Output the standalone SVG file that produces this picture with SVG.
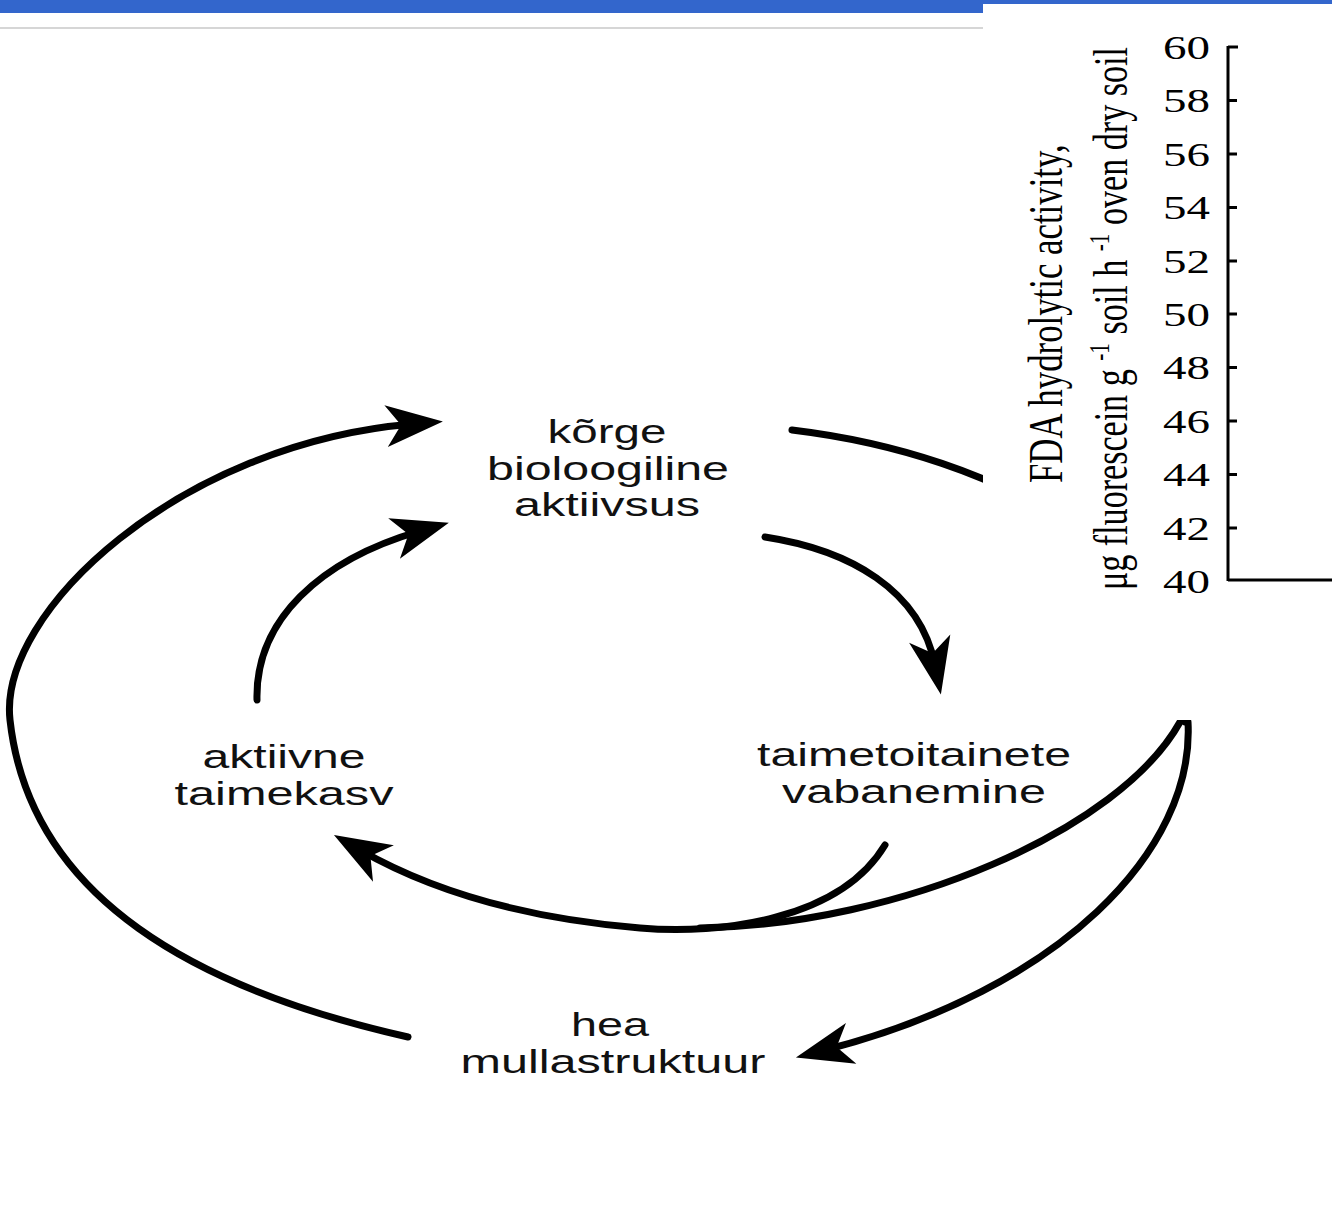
<svg xmlns="http://www.w3.org/2000/svg" width="1332" height="1232" viewBox="0 0 1332 1232">
  <defs>
    <style>
      .lbl { font-family: "Liberation Sans", Arial, sans-serif; font-size: 33px; fill: #111; text-anchor: middle; }
      .conn { fill: none; stroke: #000; stroke-width: 7; stroke-linecap: round; }
      .axis { stroke: #000; stroke-width: 3; fill: none; }
      .tick { font-family: "Liberation Serif", "Times New Roman", serif; font-size: 33px; fill: #000; text-anchor: end; }
      .ytitle { font-family: "Liberation Serif", "Times New Roman", serif; font-size: 48px; fill: #000; }
    </style>
    <marker id="ah" markerUnits="userSpaceOnUse" viewBox="-30 -22 62 44" refX="0" refY="0" markerWidth="62" markerHeight="44" orient="auto" overflow="visible">
      <path d="M30,0 L-27,-21 L-12,0 L-27,21 Z" fill="#000"/>
    </marker>
  </defs>

  <rect x="0" y="0" width="1332" height="1232" fill="#fff"/>

  <!-- header decoration -->
  <g id="header">
    <rect x="0" y="0" width="983" height="13" fill="#3366cc"/>
    <rect x="983" y="0" width="349" height="4" fill="#3366cc"/>
    <line x1="0" y1="28" x2="983" y2="28" stroke="#d6d6d6" stroke-width="2"/>
  </g>

  <!-- connectors -->
  <g id="connectors">
    <path class="conn" d="M408,1037 C200,990 30,900 10,720 C-2,612 180,443 413,424" marker-end="url(#ah)"/>
    <path class="conn" d="M257,700 C255,620 320,560 420,531" marker-end="url(#ah)"/>
    <path class="conn" d="M765,537 C850,550 920,590 935,665" marker-end="url(#ah)"/>
    <path class="conn" d="M792,430 C1000,455 1190,560 1185,722"/>
    <path class="conn" d="M1188,722 C1195,850 1060,990 825,1050" marker-end="url(#ah)"/>
    <path class="conn" d="M1180,722 C1120,830 900,925 700,928"/>
    <path class="conn" d="M885,845 C840,920 720,935 640,928 C520,918 430,890 360,850" marker-end="url(#ah)"/>
  </g>

  <!-- chart panel overlay -->
  <g id="chart">
    <rect x="983" y="4" width="349" height="716" fill="#fff"/>
    <line class="axis" x1="1228" y1="46" x2="1228" y2="581"/>
    <line class="axis" x1="1228" y1="580" x2="1332" y2="580"/>
    <g class="axis">
      <line x1="1228" y1="47" x2="1238" y2="47"/>
      <line x1="1228" y1="100.5" x2="1237" y2="100.5"/>
      <line x1="1228" y1="154" x2="1237" y2="154"/>
      <line x1="1228" y1="207.5" x2="1237" y2="207.5"/>
      <line x1="1228" y1="261" x2="1237" y2="261"/>
      <line x1="1228" y1="314" x2="1237" y2="314"/>
      <line x1="1228" y1="367.5" x2="1237" y2="367.5"/>
      <line x1="1228" y1="421" x2="1237" y2="421"/>
      <line x1="1228" y1="474.5" x2="1237" y2="474.5"/>
      <line x1="1228" y1="528" x2="1237" y2="528"/>
    </g>
    <g id="ticklabels">
      <text class="tick" x="1210" y="59" textLength="47" lengthAdjust="spacingAndGlyphs">60</text>
      <text class="tick" x="1210" y="112" textLength="47" lengthAdjust="spacingAndGlyphs">58</text>
      <text class="tick" x="1210" y="166" textLength="47" lengthAdjust="spacingAndGlyphs">56</text>
      <text class="tick" x="1210" y="219" textLength="47" lengthAdjust="spacingAndGlyphs">54</text>
      <text class="tick" x="1210" y="273" textLength="47" lengthAdjust="spacingAndGlyphs">52</text>
      <text class="tick" x="1210" y="326" textLength="47" lengthAdjust="spacingAndGlyphs">50</text>
      <text class="tick" x="1210" y="379" textLength="47" lengthAdjust="spacingAndGlyphs">48</text>
      <text class="tick" x="1210" y="433" textLength="47" lengthAdjust="spacingAndGlyphs">46</text>
      <text class="tick" x="1210" y="486" textLength="47" lengthAdjust="spacingAndGlyphs">44</text>
      <text class="tick" x="1210" y="540" textLength="47" lengthAdjust="spacingAndGlyphs">42</text>
      <text class="tick" x="1210" y="593" textLength="47" lengthAdjust="spacingAndGlyphs">40</text>
    </g>
    <g id="ytitle">
      <text class="ytitle" transform="translate(1062,483) rotate(-90) scale(0.725,1)">FDA hydrolytic activity,</text>
      <text class="ytitle" transform="translate(1127,590) rotate(-90) scale(0.71,1)">μg fluorescein g <tspan font-size="30" dy="-18">-1</tspan><tspan dy="18"> soil h </tspan><tspan font-size="30" dy="-18">-1</tspan><tspan dy="18"> oven dry soil</tspan></text>
    </g>
  </g>

  <!-- nodes -->
  <g id="node-korge">
    <text class="lbl" x="607" y="443" textLength="119" lengthAdjust="spacingAndGlyphs">kõrge</text>
    <text class="lbl" x="608" y="480" textLength="242" lengthAdjust="spacingAndGlyphs">bioloogiline</text>
    <text class="lbl" x="607" y="516" textLength="186" lengthAdjust="spacingAndGlyphs">aktiivsus</text>
  </g>
  <g id="node-taimekasv">
    <text class="lbl" x="284" y="768" textLength="163" lengthAdjust="spacingAndGlyphs">aktiivne</text>
    <text class="lbl" x="284" y="805" textLength="219" lengthAdjust="spacingAndGlyphs">taimekasv</text>
  </g>
  <g id="node-toitained">
    <text class="lbl" x="914" y="766" textLength="314" lengthAdjust="spacingAndGlyphs">taimetoitainete</text>
    <text class="lbl" x="914" y="803" textLength="264" lengthAdjust="spacingAndGlyphs">vabanemine</text>
  </g>
  <g id="node-mullastruktuur">
    <text class="lbl" x="610" y="1036" textLength="78" lengthAdjust="spacingAndGlyphs">hea</text>
    <text class="lbl" x="613" y="1073" textLength="305" lengthAdjust="spacingAndGlyphs">mullastruktuur</text>
  </g>
</svg>
